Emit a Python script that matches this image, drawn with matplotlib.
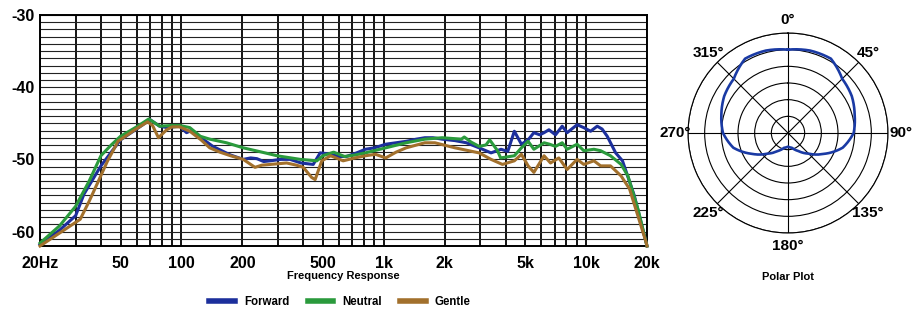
import numpy as np
import matplotlib
matplotlib.use('Agg')
from matplotlib import pyplot as plt
from matplotlib.lines import Line2D

plt.rcParams['font.family'] = ['Liberation Sans', 'DejaVu Sans']
plt.rcParams['font.weight'] = 'bold'
plt.rcParams['axes.unicode_minus'] = False

# frequency response (Hz, dB)
forward_f = [20, 25, 30, 33, 40, 50, 60, 70, 78, 85, 98, 106, 112, 125, 143, 175, 202, 220, 236, 255,
             275, 310, 344, 390, 448, 485, 520, 546, 600, 653, 720, 811, 900, 1023, 1150, 1291, 1450,
             1596, 1750, 1944, 2250, 2560, 2960, 3390, 3800, 4100, 4420, 4790, 5170, 5520, 5900, 6200,
             6550, 7060, 7620, 8060, 9030, 9740, 10530, 11350, 12000, 12720, 14000, 15130, 17300, 19800, 20000]
forward_db = [-61.8, -59.8, -57.8, -54.8, -50.9, -47.3, -45.8, -44.5, -45.4, -45.6, -45.4, -46.3, -46.0,
              -47.0, -48.2, -49.4, -50.0, -49.8, -49.9, -50.3, -50.2, -50.0, -50.0, -50.5, -50.7, -49.1,
              -49.2, -49.3, -49.6, -49.6, -49.2, -48.6, -48.4, -47.9, -47.7, -47.5, -47.2, -47.0, -47.0,
              -47.2, -47.4, -47.7, -48.4, -49.1, -48.6, -48.9, -46.1, -47.9, -47.3, -46.3, -46.6, -46.3,
              -45.9, -46.6, -45.4, -46.3, -45.2, -45.6, -46.1, -45.4, -45.8, -46.8, -49.1, -50.2, -55.0,
              -61.5, -62.0]

neutral_f = [20, 25, 30, 35, 40, 45, 50, 60, 69, 78, 90, 98, 110, 124, 138, 167, 202, 250, 297, 387, 467,
             500, 565, 640, 720, 811, 1023, 1291, 1596, 1944, 2420, 2500, 2700, 2960, 3200, 3340, 3650,
             3780, 4420, 4790, 5170, 5520, 6200, 6600, 7060, 7620, 8060, 9030, 9740, 10930, 11800, 13200,
             14900, 16100, 18050, 19800, 20000]
neutral_db = [-61.6, -59.2, -56.5, -53.0, -49.5, -48.0, -46.8, -45.5, -44.4, -45.4, -45.3, -45.3, -45.6,
              -46.8, -47.2, -47.7, -48.4, -49.0, -49.5, -50.0, -50.2, -49.5, -49.0, -49.6, -49.4, -49.1,
              -48.4, -47.7, -47.2, -47.0, -47.2, -46.9, -47.6, -48.2, -48.0, -47.3, -48.8, -49.8, -49.5,
              -48.4, -47.5, -48.6, -47.7, -47.9, -48.2, -47.7, -48.6, -47.9, -48.8, -48.6, -48.8, -49.5,
              -50.7, -52.3, -56.9, -61.5, -62.0]

gentle_f = [20, 25, 31.6, 35, 38.6, 43, 48.6, 58.9, 68, 72, 77, 84.5, 90, 98, 110, 125, 138, 155, 175, 202,
            231, 250, 275, 331, 370, 400, 440, 458, 494, 546, 630, 720, 811, 910, 1023, 1150, 1291, 1596,
            1790, 2250, 2960, 3390, 3860, 4420, 4790, 5170, 5520, 6200, 6670, 7330, 8060, 9030, 9740,
            10930, 11800, 13200, 14900, 16400, 19800, 20000]
gentle_db = [-62.0, -60.2, -58.3, -55.8, -53.2, -50.3, -47.5, -45.9, -44.8, -45.3, -47.0, -45.9, -45.5,
             -45.5, -46.1, -47.3, -48.4, -49.0, -49.5, -50.0, -51.1, -50.8, -50.7, -50.5, -50.8, -51.1,
             -52.5, -52.8, -50.2, -49.5, -50.2, -49.8, -49.5, -49.3, -49.8, -49.0, -48.4, -47.7, -47.7,
             -48.4, -49.1, -50.0, -50.7, -50.2, -49.3, -50.9, -51.8, -49.5, -50.5, -49.8, -51.4, -50.0,
             -50.7, -50.2, -50.9, -50.9, -52.3, -54.1, -61.5, -62.0]

series_names = ['Forward', 'Neutral', 'Gentle']
series_colors = ['#1c2f9c', '#2a9a3c', '#a2702c']

x_tick_values = [20, 50, 100, 200, 500, 1000, 2000, 5000, 10000, 20000]
x_tick_labels = ['20Hz', '50', '100', '200', '500', '1k', '2k', '5k', '10k', '20k']
y_tick_values = [-30, -40, -50, -60]

# polar pattern, radius in ring units (6 rings), every 15 degrees
polar_deg = [0, 15, 30, 45, 60, 75, 90, 105, 120, 135, 150, 165, 180,
             195, 210, 225, 240, 255, 270, 285, 300, 315, 330, 345, 360]
polar_r = [5.0, 5.12, 5.15, 4.6, 4.42, 4.14, 3.94, 3.4, 2.5, 1.75, 1.25, 0.92, 0.82,
           0.92, 1.25, 1.75, 2.5, 3.4, 3.9, 4.14, 4.42, 4.6, 5.15, 5.12, 5.0]
polar_labels = ['0°', '45°', '90°', '135°', '180°', '225°', '270°', '315°']

fig = plt.figure(figsize=(9.2, 3.15), dpi=100)

ax = fig.add_axes([40 / 920, 1 - 246 / 315, 607 / 920, 231 / 315])
ax.set_xscale('log')
ax.set_xlim(20, 20000)
ax.set_ylim(-62, -30)

for f, db, color, name in zip([forward_f, neutral_f, gentle_f], [forward_db, neutral_db, gentle_db],
                              series_colors, series_names):
    ax.plot(f, db, color=color, lw=2.2, label=name, zorder=3, clip_on=False)

ax.set_xticks(x_tick_values)
ax.set_xticklabels(x_tick_labels)
minor_x = [m * 10 ** e for e in (1, 2, 3) for m in range(2, 10)] + [10000, 20000]
ax.set_xticks([v for v in minor_x if v not in x_tick_values], minor=True)
ax.xaxis.set_minor_formatter(matplotlib.ticker.NullFormatter())
ax.set_yticks(y_tick_values)
ax.set_yticks(np.arange(-62, -29, 1), minor=True)
ax.grid(True, which='both', axis='x', color='black', lw=1.3, zorder=1)
ax.grid(True, which='both', axis='y', color='#222222', lw=0.8, zorder=1)
ax.tick_params(which='both', length=0)
ax.tick_params(axis='x', labelsize=11.5, pad=7)
ax.tick_params(axis='y', labelsize=11.5, pad=4)
for s in ax.spines.values():
    s.set_linewidth(1.4)
ax.set_axisbelow(True)

fig.text(343.5 / 920, 1 - 276 / 315, 'Frequency Response', ha='center', va='center',
         fontsize=8, fontweight='bold')

handles = [Line2D([], [], color=c, lw=4) for c in series_colors]
fig.legend(handles, series_names, loc='center', bbox_to_anchor=(340 / 920, 1 - 302 / 315),
           ncol=3, frameon=False, handlelength=2.2, columnspacing=1.6,
           handletextpad=0.8, prop={'weight': 'bold', 'size': 8.3})

# polar plot
pax = fig.add_axes([688 / 920, 1 - 233 / 315, 200 / 920, 200 / 315], projection='polar')
pax.set_theta_zero_location('N')
pax.set_theta_direction(-1)
pline, = pax.plot(np.radians(polar_deg), polar_r, color='#1a3aa4', lw=1.9, zorder=3)
pline.get_path()._interpolation_steps = 20
pax.set_ylim(0, 6)
pax.set_rgrids([1, 2, 3, 4, 5, 6], labels=[''] * 6)
pax.set_thetagrids(range(0, 360, 45), labels=polar_labels)
pax.grid(True, color='black', lw=0.8)
pax.spines['polar'].set_linewidth(0.8)
pax.tick_params(axis='x', labelsize=11, pad=-1)
pax.set_facecolor('white')

fig.text(788 / 920, 1 - 277 / 315, 'Polar Plot', ha='center', va='center',
         fontsize=8, fontweight='bold')

fig.savefig('out.png', dpi=100)
